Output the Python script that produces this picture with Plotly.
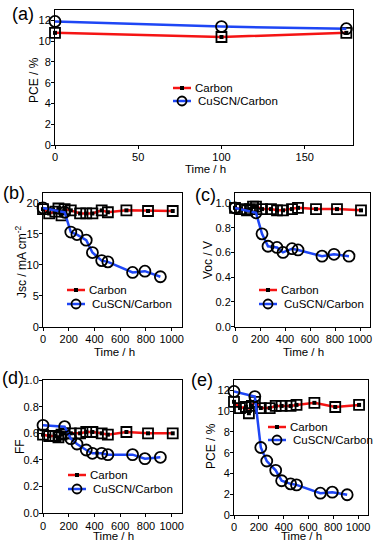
import plotly.graph_objects as go

# ── Data ──────────────────────────────────────────────────────────────────────
# (a) short-term PCE
a_time = [0, 100, 175]
a_pce_carbon = [10.8, 10.4, 10.8]
a_pce_cuscn = [11.9, 11.4, 11.2]

# (b)-(e) long-term stability
t_carbon = [0, 48, 96, 120, 144, 168, 216, 288, 336, 384, 456, 504, 648, 816, 1008]
t_cuscn = [0, 168, 216, 264, 336, 384, 456, 504, 696, 792, 912]

jsc_carbon = [19.0, 18.3, 18.6, 19.1, 18.0, 19.0, 18.8, 18.3, 18.3, 18.3, 18.8, 18.5, 18.8, 18.7, 18.7]
jsc_cuscn = [19.2, 18.5, 15.3, 14.9, 14.0, 12.0, 10.7, 10.5, 8.8, 9.0, 8.1]

voc_carbon = [0.96, 0.95, 0.94, 0.95, 0.97, 0.97, 0.95, 0.95, 0.94, 0.94, 0.95, 0.96, 0.95, 0.95, 0.94]
voc_cuscn = [0.96, 0.92, 0.75, 0.65, 0.64, 0.60, 0.63, 0.62, 0.57, 0.585, 0.57]

ff_carbon = [0.59, 0.58, 0.58, 0.57, 0.59, 0.60, 0.60, 0.60, 0.61, 0.61, 0.60, 0.59, 0.61, 0.60, 0.60]
ff_cuscn = [0.66, 0.65, 0.56, 0.52, 0.475, 0.45, 0.45, 0.44, 0.44, 0.41, 0.42]

pce_carbon = [10.9, 10.3, 10.4, 9.8, 10.5, 10.9, 10.3, 10.3, 10.5, 10.5, 10.5, 10.6, 10.8, 10.4, 10.6]
pce_cuscn = [11.9, 11.4, 6.5, 5.2, 4.3, 3.3, 3.0, 2.9, 2.1, 2.2, 1.95]

series_names = ["Carbon", "CuSCN/Carbon"]
y_titles = ["PCE / %", "Jsc / mA cm<sup>-2</sup>", "Voc / V", "FF", "PCE / %"]

# ── Style ─────────────────────────────────────────────────────────────────────
RED = "#F51414"
BLUE = "#1E46F5"
BLACK = "#000000"
FONT = "Liberation Sans, Arial, sans-serif"
W, H = 374, 542


def px_x(a, b):
    return [a / W, b / W]


def px_y(top, bottom):
    return [1 - bottom / H, 1 - top / H]


def P(xp, yp):
    return xp / W, 1 - yp / H


fig = go.Figure()

panels = [
    ("", a_time, a_pce_carbon, a_time, a_pce_cuscn),
    ("2", t_carbon, jsc_carbon, t_cuscn, jsc_cuscn),
    ("3", t_carbon, voc_carbon, t_cuscn, voc_cuscn),
    ("4", t_carbon, ff_carbon, t_cuscn, ff_cuscn),
    ("5", t_carbon, pce_carbon, t_cuscn, pce_cuscn),
]

for ax, xc, yc, xs, ys in panels:
    xa, ya = "x" + ax, "y" + ax
    # Carbon: red line with small filled squares, plus open square overlay
    fig.add_trace(go.Scatter(
        x=xc, y=yc, mode="lines+markers", name=series_names[0],
        line=dict(color=RED, width=2.5),
        marker=dict(symbol="square", size=4, color=BLACK),
        xaxis=xa, yaxis=ya, showlegend=False, cliponaxis=False,
    ))
    fig.add_trace(go.Scatter(
        x=xc, y=yc, mode="markers", showlegend=False,
        marker=dict(symbol="square-open", size=10, color=BLACK,
                    line=dict(width=1.8, color=BLACK)),
        xaxis=xa, yaxis=ya, cliponaxis=False,
    ))
    fig.add_trace(go.Scatter(
        x=xs, y=ys, mode="lines+markers", name=series_names[1],
        line=dict(color=BLUE, width=2.5),
        marker=dict(symbol="circle-open", size=11, color=BLACK,
                    line=dict(width=1.8, color=BLACK)),
        xaxis=xa, yaxis=ya, showlegend=False, cliponaxis=False,
    ))


def axis(domain, rng, dtick, anchor, fmt=None, standoff=-2):
    d = dict(domain=domain, range=rng, dtick=dtick, anchor=anchor,
             showline=True, linecolor=BLACK, linewidth=1, mirror=True,
             ticks="outside", ticklen=3, tickcolor=BLACK,
             showgrid=False, zeroline=False, automargin=False,
             ticklabelstandoff=standoff, tickfont=dict(size=11))
    if fmt:
        d["tickformat"] = fmt
    return d


fig.update_layout(
    width=W, height=H,
    margin=dict(l=0, r=0, t=0, b=0),
    paper_bgcolor="white", plot_bgcolor="white",
    font=dict(family=FONT, color=BLACK, size=11),
    showlegend=False,
    xaxis=axis(px_x(55, 353), [0, 179], 50, "y", standoff=-1),
    yaxis=axis(px_y(10, 145), [0, 13], 2, "x"),
    xaxis2=axis(px_x(43, 182), [0, 1080], 200, "y2", standoff=-1),
    yaxis2=axis(px_y(193, 327), [0, 21.6], 5, "x2"),
    xaxis3=axis(px_x(235, 370), [0, 1080], 200, "y3", standoff=-1),
    yaxis3=axis(px_y(193, 326.7), [0, 1.08], 0.2, "x3", ".1f"),
    xaxis4=axis(px_x(43, 182), [0, 1080], 200, "y4", standoff=-1),
    yaxis4=axis(px_y(380, 513.3), [0, 1.0], 0.2, "x4", ".1f"),
    xaxis5=axis(px_x(234, 368), [0, 1080], 200, "y5", standoff=-1),
    yaxis5=axis(px_y(380, 515), [0, 13], 2, "x5"),
)

# ── Axis titles placed like the original ─────────────────────────────────────
x_title_spots = [(205, 169), (114, 352), (303, 352), (113, 535.5), (301, 535.5)]
y_title_spots = [(34, 80), (21, 262), (208, 260), (20, 447), (211, 446)]
for (xx, xy), (yx, yy), yt in zip(x_title_spots, y_title_spots, y_titles):
    tx, ty = P(xx, xy)
    fig.add_annotation(text="Time / h", x=tx, y=ty, xref="paper", yref="paper",
                       xanchor="center", yanchor="middle", showarrow=False,
                       font=dict(size=11.5, color=BLACK))
    tx, ty = P(yx, yy)
    fig.add_annotation(text=yt, x=tx, y=ty, xref="paper", yref="paper",
                       xanchor="center", yanchor="middle", showarrow=False,
                       textangle=-90, font=dict(size=12, color=BLACK))

# ── Hand-drawn legends (tight row spacing like the original) ─────────────────
legend_spots = [(173, 88, 13), (67, 290, 14), (259, 290, 14), (68, 475, 14), (268, 427, 13)]

for lx, ly, gap in legend_spots:
    for i, (name, col) in enumerate(zip(series_names, [RED, BLUE])):
        yy = ly + i * gap
        x0, y0 = P(lx, yy)
        x1, _ = P(lx + 18, yy)
        fig.add_shape(type="line", xref="paper", yref="paper",
                      x0=x0, x1=x1, y0=y0, y1=y0, line=dict(color=col, width=2.5))
        cx = lx + 9
        if i == 0:
            a, b = P(cx - 2, yy - 2)
            c, d = P(cx + 2, yy + 2)
            fig.add_shape(type="rect", xref="paper", yref="paper",
                          x0=a, x1=c, y0=d, y1=b, fillcolor=BLACK,
                          line=dict(width=0))
        else:
            a, b = P(cx - 4.5, yy - 4.5)
            c, d = P(cx + 4.5, yy + 4.5)
            fig.add_shape(type="circle", xref="paper", yref="paper",
                          x0=a, x1=c, y0=d, y1=b,
                          line=dict(color=BLACK, width=1.8))
        tx, ty = P(lx + (20 if i == 0 else 23), yy)
        fig.add_annotation(text=name, x=tx, y=ty, xref="paper", yref="paper",
                           xanchor="left", yanchor="middle", showarrow=False,
                           font=dict(size=11.5, color=BLACK))

labels = [("(a)", 10, 2), ("(b)", 1, 181), ("(c)", 193, 183),
          ("(d)", 0, 366), ("(e)", 189, 368)]
for text, x, y in labels:
    fig.add_annotation(text=text, x=x / W, y=1 - y / H, xref="paper", yref="paper",
                       xanchor="left", yanchor="top", showarrow=False,
                       font=dict(size=18, color=BLACK))

# the page body has a default 8px margin; drop it so the figure fills the window
fig.write_html("out.html", config={"displayModeBar": False},
               post_script="document.body.style.margin='0';")
